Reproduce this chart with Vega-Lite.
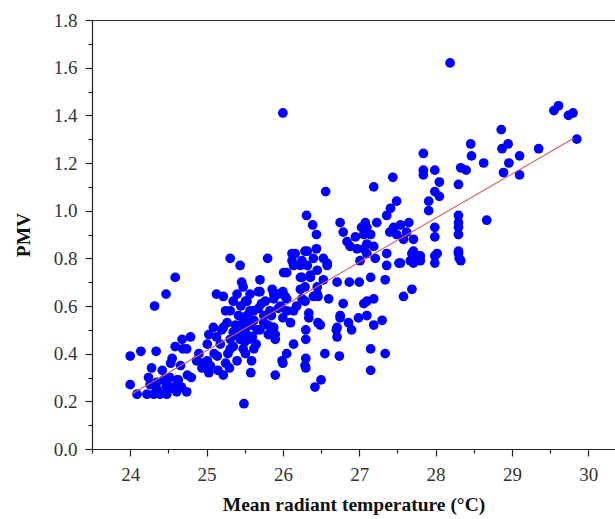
{
  "$schema": "https://vega.github.io/schema/vega-lite/v6.json",
  "autosize": "none",
  "padding": {"left": 92, "top": 20, "right": 0, "bottom": 70},
  "width": 523,
  "height": 429,
  "background": "white",
  "config": {
    "view": {"stroke": null},
    "font": "Liberation Serif",
    "axis": {"grid": false, "domainColor": "#222", "tickColor": "#222", "labelColor": "#333", "titleColor": "#111", "labelFont": "Liberation Serif", "titleFont": "Liberation Serif", "labelFontSize": 19, "titleFontSize": 19.5, "titleFontWeight": "bold", "domainWidth": 1.2, "tickWidth": 1.2, "labelOverlap": false}
  },
  "resolve": {"axis": {"x": "independent"}},
  "datasets": {
    "pts": [
      {"t":24.0,"pmv":0.39},{"t":24.0,"pmv":0.27},{"t":24.09,"pmv":0.23},{"t":24.14,"pmv":0.41},{"t":24.34,"pmv":0.41},{"t":24.32,"pmv":0.60},{"t":24.47,"pmv":0.65},{"t":24.59,"pmv":0.72},{"t":24.28,"pmv":0.34},{"t":24.24,"pmv":0.30},{"t":24.26,"pmv":0.27},{"t":24.35,"pmv":0.25},{"t":24.31,"pmv":0.23},{"t":24.44,"pmv":0.29},{"t":24.52,"pmv":0.30},{"t":24.50,"pmv":0.25},{"t":24.63,"pmv":0.29},{"t":24.61,"pmv":0.24},{"t":24.74,"pmv":0.24},{"t":24.80,"pmv":0.30},{"t":24.55,"pmv":0.38},{"t":24.59,"pmv":0.43},{"t":24.68,"pmv":0.46},{"t":24.79,"pmv":0.47},{"t":24.74,"pmv":0.42},{"t":24.66,"pmv":0.35},{"t":24.39,"pmv":0.23},{"t":24.22,"pmv":0.23},{"t":24.42,"pmv":0.33},{"t":24.35,"pmv":0.28},{"t":24.48,"pmv":0.23},{"t":24.49,"pmv":0.29},{"t":24.62,"pmv":0.29},{"t":24.75,"pmv":0.31},{"t":24.53,"pmv":0.36},{"t":24.57,"pmv":0.26},{"t":24.67,"pmv":0.26},{"t":24.47,"pmv":0.26},{"t":24.69,"pmv":0.42},
      {"t":24.87,"pmv":0.37},{"t":24.94,"pmv":0.34},{"t":25.03,"pmv":0.32},{"t":25.01,"pmv":0.37},{"t":25.14,"pmv":0.39},{"t":25.03,"pmv":0.48},{"t":25.01,"pmv":0.44},{"t":25.13,"pmv":0.65},{"t":25.09,"pmv":0.51},{"t":25.22,"pmv":0.51},{"t":25.22,"pmv":0.31},{"t":25.30,"pmv":0.34},{"t":25.31,"pmv":0.80},{"t":25.44,"pmv":0.77},{"t":25.46,"pmv":0.70},{"t":25.49,"pmv":0.19},{"t":25.58,"pmv":0.32},{"t":25.59,"pmv":0.37},{"t":25.70,"pmv":0.66},{"t":25.70,"pmv":0.71},{"t":25.80,"pmv":0.80},{"t":25.90,"pmv":0.31},{"t":26.0,"pmv":0.36},{"t":26.14,"pmv":0.44},{"t":26.42,"pmv":0.26},{"t":26.30,"pmv":0.38},{"t":26.30,"pmv":0.34},{"t":26.30,"pmv":0.46},{"t":26.30,"pmv":0.50},{"t":26.10,"pmv":0.53},{"t":26.0,"pmv":0.55},{"t":25.86,"pmv":0.51},{"t":25.90,"pmv":0.48},{"t":25.80,"pmv":0.52},{"t":25.88,"pmv":0.65},{"t":26.0,"pmv":0.66},{"t":26.05,"pmv":0.74},{"t":26.12,"pmv":0.82},{"t":26.29,"pmv":0.83},{"t":26.32,"pmv":0.77},{"t":26.23,"pmv":0.77},{"t":26.25,"pmv":0.63},{"t":26.40,"pmv":0.64},{"t":26.46,"pmv":0.53},{"t":26.34,"pmv":0.55},
      {"t":25.99,"pmv":0.37},{"t":26.05,"pmv":0.40},{"t":26.29,"pmv":0.35},{"t":26.14,"pmv":0.58},{"t":26.34,"pmv":0.57},{"t":26.49,"pmv":0.52},{"t":26.50,"pmv":0.29},{"t":26.55,"pmv":0.40},{"t":26.74,"pmv":0.39},{"t":26.71,"pmv":0.47},{"t":26.71,"pmv":0.51},{"t":26.75,"pmv":0.56},{"t":26.86,"pmv":0.53},{"t":26.90,"pmv":0.50},{"t":26.99,"pmv":0.55},{"t":26.79,"pmv":0.61},{"t":26.60,"pmv":0.63},{"t":26.45,"pmv":0.65},{"t":26.29,"pmv":0.62},{"t":25.88,"pmv":0.63},{"t":25.68,"pmv":0.66},{"t":26.71,"pmv":0.70},{"t":26.87,"pmv":0.70},{"t":27.0,"pmv":0.70},{"t":27.1,"pmv":0.62},{"t":27.1,"pmv":0.56},
      {"t":27.15,"pmv":0.33},{"t":27.15,"pmv":0.42},{"t":27.34,"pmv":0.40},{"t":27.19,"pmv":0.52},{"t":27.30,"pmv":0.54},{"t":27.06,"pmv":0.61},{"t":27.19,"pmv":0.63},{"t":27.15,"pmv":0.72},{"t":27.34,"pmv":0.71},{"t":27.58,"pmv":0.64},{"t":27.69,"pmv":0.67},{"t":27.36,"pmv":0.77},{"t":27.54,"pmv":0.78},{"t":27.71,"pmv":0.78},{"t":27.80,"pmv":0.79},{"t":27.99,"pmv":0.78},{"t":28.33,"pmv":0.79},{"t":28.02,"pmv":0.82},{"t":28.30,"pmv":0.82},{"t":27.69,"pmv":0.82},{"t":27.80,"pmv":0.81},{"t":27.75,"pmv":0.79},{"t":26.75,"pmv":0.55},{"t":26.70,"pmv":0.50},
      {"t":28.46,"pmv":1.28},{"t":28.47,"pmv":1.23},{"t":28.63,"pmv":1.20},{"t":28.33,"pmv":1.18},{"t":28.40,"pmv":1.17},{"t":28.30,"pmv":1.11},{"t":28.67,"pmv":0.96},{"t":27.84,"pmv":1.24},{"t":27.84,"pmv":1.17},{"t":27.84,"pmv":1.15},{"t":27.99,"pmv":1.17},{"t":28.05,"pmv":1.12},{"t":27.99,"pmv":1.08},{"t":28.05,"pmv":1.06},{"t":27.91,"pmv":1.04},{"t":27.91,"pmv":1.00},{"t":27.44,"pmv":1.14},{"t":27.19,"pmv":1.10},{"t":27.49,"pmv":1.04},{"t":27.41,"pmv":1.01},{"t":27.36,"pmv":0.98},{"t":27.23,"pmv":0.95},{"t":27.08,"pmv":0.95},{"t":27.03,"pmv":0.93},{"t":28.30,"pmv":0.98},{"t":28.30,"pmv":0.95},{"t":28.30,"pmv":0.93},{"t":28.30,"pmv":0.90},{"t":28.30,"pmv":0.83},{"t":28.31,"pmv":0.80},{"t":27.99,"pmv":0.93},{"t":27.99,"pmv":0.89},{"t":27.99,"pmv":0.81},{"t":27.71,"pmv":0.83},{"t":27.67,"pmv":0.79},{"t":27.52,"pmv":0.78},{"t":27.36,"pmv":0.82},{"t":27.65,"pmv":0.95},{"t":27.45,"pmv":0.93},{"t":27.54,"pmv":0.94},{"t":27.40,"pmv":0.91},{"t":27.49,"pmv":0.90},{"t":27.62,"pmv":0.91},{"t":27.58,"pmv":0.88},{"t":27.71,"pmv":0.88},{"t":27.10,"pmv":0.93},{"t":27.06,"pmv":0.90},{"t":27.15,"pmv":0.90},{"t":27.10,"pmv":0.86},{"t":27.19,"pmv":0.85},{"t":27.06,"pmv":0.84},{"t":27.10,"pmv":0.82},{"t":27.21,"pmv":0.80},{"t":27.01,"pmv":0.79},
      {"t":26.56,"pmv":1.08},{"t":26.31,"pmv":0.98},{"t":26.39,"pmv":0.94},{"t":26.44,"pmv":0.90},{"t":26.75,"pmv":0.95},{"t":26.79,"pmv":0.91},{"t":26.84,"pmv":0.87},{"t":26.95,"pmv":0.89},{"t":26.88,"pmv":0.85},{"t":26.97,"pmv":0.84},{"t":26.44,"pmv":0.84},{"t":26.32,"pmv":0.83},{"t":26.16,"pmv":0.82},{"t":26.12,"pmv":0.79},{"t":26.25,"pmv":0.79},{"t":26.40,"pmv":0.80},{"t":26.53,"pmv":0.80},{"t":26.58,"pmv":0.78},
      {"t":29.55,"pmv":1.42},{"t":29.61,"pmv":1.44},{"t":29.74,"pmv":1.40},{"t":29.80,"pmv":1.41},{"t":29.85,"pmv":1.30},{"t":29.35,"pmv":1.26},{"t":28.86,"pmv":1.34},{"t":28.95,"pmv":1.28},{"t":28.87,"pmv":1.26},{"t":29.10,"pmv":1.23},{"t":28.96,"pmv":1.20},{"t":28.89,"pmv":1.16},{"t":29.10,"pmv":1.15},{"t":28.19,"pmv":1.62},{"t":26.0,"pmv":1.41},
      {"t":25.22,"pmv":0.64},{"t":25.35,"pmv":0.62},{"t":25.31,"pmv":0.58},{"t":25.42,"pmv":0.56},{"t":25.27,"pmv":0.53},{"t":25.53,"pmv":0.62},{"t":25.57,"pmv":0.58},{"t":25.68,"pmv":0.59},{"t":25.48,"pmv":0.53},{"t":25.62,"pmv":0.54},{"t":25.75,"pmv":0.56},{"t":25.53,"pmv":0.48},{"t":25.66,"pmv":0.50},{"t":25.35,"pmv":0.49},{"t":25.44,"pmv":0.46},{"t":25.35,"pmv":0.43},{"t":25.51,"pmv":0.40},{"t":25.40,"pmv":0.37},{"t":25.31,"pmv":0.42},{"t":25.18,"pmv":0.44},{"t":25.13,"pmv":0.47},{"t":25.20,"pmv":0.50},{"t":25.31,"pmv":0.46},{"t":25.62,"pmv":0.42},{"t":25.92,"pmv":0.65},{"t":26.05,"pmv":0.63},{"t":25.94,"pmv":0.59},{"t":26.05,"pmv":0.58},{"t":26.18,"pmv":0.60},{"t":26.23,"pmv":0.67},{"t":26.25,"pmv":0.72},{"t":26.36,"pmv":0.72},{"t":26.46,"pmv":0.64},
      {"t":26.01,"pmv":0.74},{"t":26.14,"pmv":0.77},{"t":26.45,"pmv":0.75},{"t":26.58,"pmv":0.77},{"t":26.23,"pmv":0.72},{"t":26.36,"pmv":0.73},{"t":26.53,"pmv":0.71},{"t":26.45,"pmv":0.68},{"t":26.29,"pmv":0.68},{"t":25.86,"pmv":0.67},{"t":25.94,"pmv":0.65},{"t":26.03,"pmv":0.64},{"t":25.97,"pmv":0.60},{"t":25.83,"pmv":0.58},{"t":25.77,"pmv":0.62},{"t":25.62,"pmv":0.58},{"t":25.53,"pmv":0.56},{"t":25.51,"pmv":0.62},{"t":25.57,"pmv":0.65},{"t":25.48,"pmv":0.68},{"t":25.75,"pmv":0.53},{"t":25.88,"pmv":0.51},{"t":25.81,"pmv":0.48},{"t":25.70,"pmv":0.50},{"t":25.90,"pmv":0.46},{"t":25.51,"pmv":0.51},{"t":25.55,"pmv":0.46},{"t":25.48,"pmv":0.42},
      {"t":24.9,"pmv":0.40},{"t":24.95,"pmv":0.36},{"t":25.05,"pmv":0.35},{"t":25.10,"pmv":0.40},{"t":25.15,"pmv":0.33},{"t":25.25,"pmv":0.36},{"t":25.28,"pmv":0.40},{"t":25.38,"pmv":0.52},{"t":25.45,"pmv":0.60},{"t":25.40,"pmv":0.65},{"t":25.25,"pmv":0.58},{"t":25.60,"pmv":0.47},{"t":25.65,"pmv":0.44},{"t":25.45,"pmv":0.50},{"t":25.58,"pmv":0.52},{"t":25.50,"pmv":0.45},{"t":25.40,"pmv":0.48},{"t":25.55,"pmv":0.55},{"t":25.72,"pmv":0.61},{"t":25.85,"pmv":0.56}
    ],
    "fit": [
      {"t":24.02,"pmv":0.231},
      {"t":29.81,"pmv":1.304}
    ]
  },
  "encoding": {
    "y": {
      "field": "pmv", "type": "quantitative",
      "scale": {"domain": [0, 1.8], "nice": false, "zero": true},
      "axis": {
        "title": "PMV",
        "values": [0, 0.1, 0.2, 0.3, 0.4, 0.5, 0.6, 0.7, 0.8, 0.9, 1.0, 1.1, 1.2, 1.3, 1.4, 1.5, 1.6, 1.7, 1.8],
        "labelExpr": "round(datum.value * 10) % 2 == 0 ? format(datum.value, '.1f') : ''",
        "tickSize": {"condition": {"test": "round(datum.value * 10) % 2 != 0", "value": 4}, "value": 7},
        "labelPadding": 8,
        "titlePadding": 20
      }
    }
  },
  "layer": [
    {
      "data": {"name": "pts"},
      "mark": {"type": "circle", "size": 95, "color": "#0000ff", "opacity": 1},
      "encoding": {
        "x": {
          "field": "t", "type": "quantitative",
          "scale": {"domain": [23.5, 30.35], "nice": false, "zero": false},
          "axis": {
            "title": "Mean radiant temperature (°C)",
            "values": [23.5, 24, 24.5, 25, 25.5, 26, 26.5, 27, 27.5, 28, 28.5, 29, 29.5, 30],
            "labelExpr": "datum.value % 1 == 0 ? format(datum.value, 'd') : ''",
            "tickSize": {"condition": {"test": "datum.value % 1 != 0", "value": 4}, "value": 7},
            "labelPadding": 9,
            "titlePadding": 11
          }
        }
      }
    },
    {
      "data": {"name": "fit"},
      "mark": {"type": "line", "color": "#dd5a5a", "strokeWidth": 1.1},
      "encoding": {
        "x": {
          "field": "t", "type": "quantitative",
          "axis": {"orient": "top", "labels": false, "ticks": false, "title": null, "domainColor": "#333", "domainWidth": 1.2}
        }
      }
    }
  ]
}
